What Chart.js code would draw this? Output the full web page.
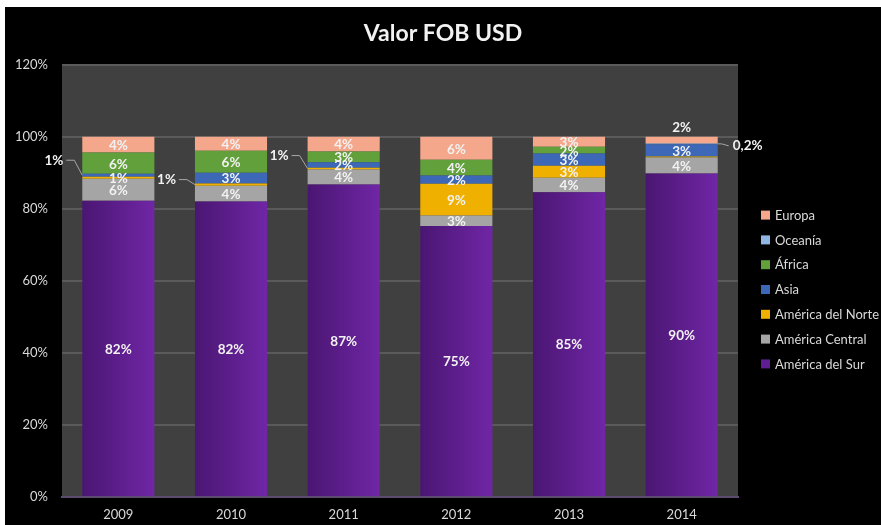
<!DOCTYPE html>
<html>
<head>
<meta charset="utf-8">
<script src="https://cdn.jsdelivr.net/npm/chart.js@4"></script>
<style>
  html, body { margin: 0; padding: 0; background: #fff; overflow: hidden; }
  #wrap { position: absolute; left: 5px; top: 7px; width: 876px; height: 518px; background: #000; }
</style>
</head>
<body>
<div id="wrap"><canvas id="chart"></canvas></div>
<script>
// Datos (porcentaje del valor FOB por región)
const years = ['2009', '2010', '2011', '2012', '2013', '2014'];
const americaSur = [82.2, 82.0, 86.7, 75.2, 84.6, 89.8];
const americaCentral = [6.1, 4.4, 4.2, 2.9, 4.0, 4.4];
const americaNorte = [0.6, 0.6, 0.5, 8.8, 3.3, 0.3];
const asia = [0.8, 3.0, 1.5, 2.3, 3.4, 3.4];
const africa = [5.9, 6.1, 3.0, 4.4, 1.9, 0.0];
const oceania = [0.0, 0.0, 0.0, 0.0, 0.0, 0.2];
const europa = [4.4, 3.9, 4.1, 6.4, 2.8, 1.9];
const yTicks = [0, 20, 40, 60, 80, 100, 120];

// etiquetas que van fuera de la barra
const outsideLabels = [
    { year: '2009', serie: 'Asia', side: 'left', rise: 15 },
    { year: '2010', serie: 'América del Norte', side: 'left', rise: 5 },
    { year: '2011', serie: 'América del Norte', side: 'left', rise: 13 },
    { year: '2014', serie: 'Oceanía', side: 'right', rise: 0 },
    { year: '2014', serie: 'Europa', side: 'top', rise: 0 }
];

const FONT = 'Lato, "Open Sans", sans-serif';

// degradado púrpura por barra
function purpleFill(ctx) {
    const chart = ctx.chart;
    const xs = chart.scales.x;
    if (!chart.chartArea || !xs || ctx.dataIndex === undefined) return '#5e1e92';
    const x = xs.getPixelForValue(ctx.dataIndex);
    const g = chart.ctx.createLinearGradient(x - 36, 0, x + 36, 0);
    g.addColorStop(0, '#4a1672');
    g.addColorStop(1, '#7026a6');
    return g;
}

const datasets = [
    { label: 'América del Sur', data: americaSur, backgroundColor: purpleFill },
    { label: 'América Central', data: americaCentral, backgroundColor: '#a5a5a5' },
    { label: 'América del Norte', data: americaNorte, backgroundColor: '#f0b000' },
    { label: 'Asia', data: asia, backgroundColor: '#3d68b8' },
    { label: 'África', data: africa, backgroundColor: '#62a03c' },
    { label: 'Oceanía', data: oceania, backgroundColor: '#8fb6e4' },
    { label: 'Europa', data: europa, backgroundColor: '#f4a78b' }
];
const legendColors = ['#5e1e92', '#a5a5a5', '#f0b000', '#3d68b8', '#62a03c', '#8fb6e4', '#f4a78b'];

function fmt(v) {
    if (v < 0.5) return v.toFixed(1).replace('.', ',') + '%';
    return Math.round(v) + '%';
}

// fondo del área del gráfico
const plotBg = {
    id: 'plotBg',
    beforeDraw(chart) {
        const { ctx, chartArea: a } = chart;
        ctx.save();
        ctx.fillStyle = '#404040';
        ctx.fillRect(a.left, a.top, a.right - a.left, a.bottom - a.top);
        ctx.restore();
    }
};

// etiquetas de datos
const segLabels = {
    id: 'segLabels',
    afterDatasetsDraw(chart) {
        const ctx = chart.ctx;
        ctx.save();
        ctx.font = 'bold 13.5px ' + FONT;
        ctx.fillStyle = '#f2f2f2';
        ctx.textBaseline = 'middle';
        chart.data.datasets.forEach((ds, i) => {
            const meta = chart.getDatasetMeta(i);
            meta.data.forEach((bar, j) => {
                const v = ds.data[j];
                if (!v) return;
                const out = outsideLabels.find(o => o.year === years[j] && o.serie === ds.label);
                const yMid = (bar.y + bar.base) / 2;
                const left = bar.x - bar.width / 2;
                const right = bar.x + bar.width / 2;
                if (!out) {
                    if (v < 0.5) return;
                    ctx.textAlign = 'center';
                    ctx.fillText(fmt(v), bar.x, yMid + 1);
                    return;
                }
                ctx.strokeStyle = '#a6a6a6';
                ctx.lineWidth = 1;
                if (out.side === 'left') {
                    const ty = yMid - out.rise;
                    ctx.textAlign = 'right';
                    ctx.fillText(fmt(v), left - 19, ty);
                    ctx.beginPath();
                    ctx.moveTo(left - 16, ty);
                    ctx.lineTo(left - 8, ty);
                    ctx.lineTo(left, yMid);
                    ctx.stroke();
                } else if (out.side === 'right') {
                    ctx.textAlign = 'left';
                    ctx.fillText(fmt(v), right + 15, yMid + 2);
                    ctx.beginPath();
                    ctx.moveTo(right, yMid);
                    ctx.lineTo(right + 4, yMid);
                    ctx.lineTo(right + 11, yMid + 2);
                    ctx.stroke();
                } else {
                    ctx.textAlign = 'center';
                    ctx.fillText(fmt(v), bar.x, bar.y - 9);
                }
            });
        });
        ctx.restore();
    }
};

// leyenda a la derecha
const sideLegend = {
    id: 'sideLegend',
    afterDraw(chart) {
        const ctx = chart.ctx;
        const a = chart.chartArea;
        ctx.save();
        ctx.font = '13px ' + FONT;
        ctx.textAlign = 'left';
        ctx.textBaseline = 'middle';
        const n = chart.data.datasets.length;
        for (let k = 0; k < n; k++) {
            const i = n - 1 - k;
            const y = a.top + 150 + k * 24.8;
            ctx.fillStyle = legendColors[i];
            ctx.fillRect(a.right + 23, y - 4, 9, 9);
            ctx.fillStyle = '#d9d9d9';
            ctx.fillText(chart.data.datasets[i].label, a.right + 37, y + 1);
        }
        ctx.restore();
    }
};

new Chart(document.getElementById('chart'), {
    type: 'bar',
    data: { labels: years, datasets: datasets },
    options: {
        responsive: true,
        maintainAspectRatio: false,
        animation: false,
        layout: { padding: { left: 0, right: 0, top: 0, bottom: 0 } },
        datasets: { bar: { barPercentage: 0.64, categoryPercentage: 1 } },
        plugins: {
            legend: { display: false },
            tooltip: { enabled: false },
            title: {
                display: true,
                text: 'Valor FOB USD',
                color: '#f2f2f2',
                font: { family: FONT, size: 23, weight: 'bold' },
                padding: { top: 13, bottom: 17 }
            }
        },
        scales: {
            x: {
                stacked: true,
                afterFit(s) { s.height = 28; },
                grid: { display: false, drawTicks: false },
                border: { color: '#5c4a70', width: 2 },
                ticks: { color: '#d9d9d9', font: { family: FONT, size: 13 }, padding: 10 }
            },
            y: {
                stacked: true,
                min: 0,
                max: 120,
                afterBuildTicks(s) { s.ticks = yTicks.map(v => ({ value: v })); },
                afterFit(s) { s.width = 57; },
                grid: { color: '#5a5a5a', lineWidth: 2, drawTicks: false },
                border: { display: false },
                ticks: {
                    color: '#d9d9d9',
                    font: { family: FONT, size: 13 },
                    padding: 14,
                    callback: v => v + '%'
                }
            },
            // espacio reservado para la leyenda
            side: {
                position: 'right',
                min: 0,
                max: 1,
                afterFit(s) { s.width = 143; },
                grid: { display: false, drawTicks: false },
                border: { display: false },
                ticks: { display: false }
            }
        }
    },
    plugins: [plotBg, segLabels, sideLegend]
});
</script>
</body>
</html>
